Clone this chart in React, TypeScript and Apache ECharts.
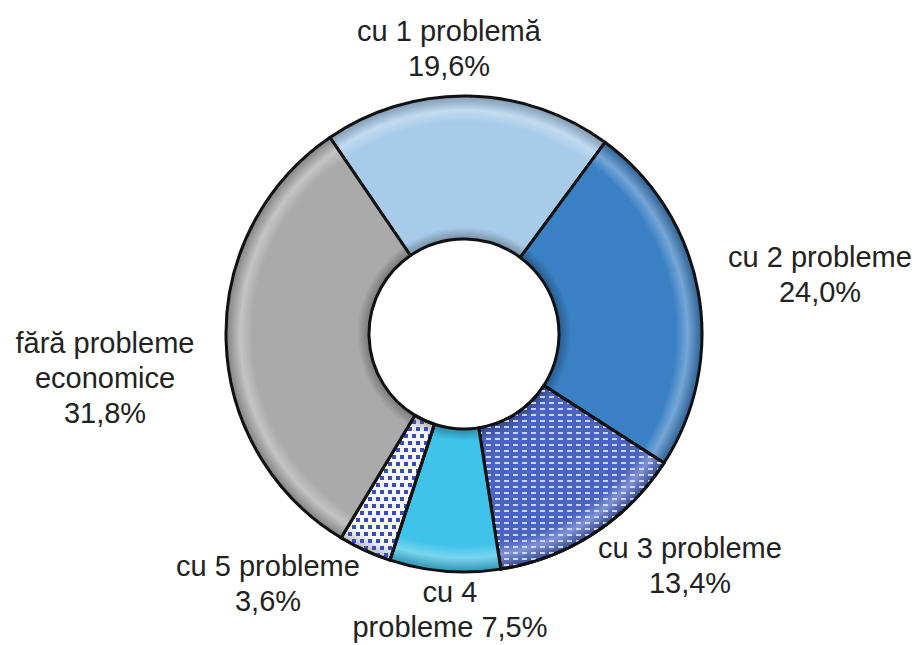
import React, { useEffect, useRef } from "react";
import * as echarts from "echarts";

const categories = [
  "cu 1 problemă",
  "cu 2 probleme",
  "cu 3 probleme",
  "cu 4 probleme",
  "cu 5 probleme",
  "fără probleme economice",
];
const values = [19.6, 24.0, 13.4, 7.5, 3.6, 31.8];
const labelNames = [
  "cu 1 problemă\n",
  "cu 2 probleme\n",
  "cu 3 probleme\n",
  "cu 4\nprobleme ",
  "cu 5 probleme\n",
  "fără probleme\neconomice\n",
];

const baseColors = ["#a8cbea", "#3a80c4", "#4a62c2", "#3fc3ea", "#f6f6fa", "#aaaaaa"];
const labelPos: [number, number][] = [
  [449, 48],
  [820, 274],
  [690, 565],
  [450, 609],
  [268, 583],
  [105, 378],
];

const CX = 464;
const CY = 334;
const R_OUT = 238;
const R_IN = 95;

function shade(hex: string, f: number): string {
  const n = parseInt(hex.slice(1), 16);
  let r = (n >> 16) & 255, g = (n >> 8) & 255, b = n & 255;
  const adj = (c: number) =>
    Math.max(0, Math.min(255, Math.round(f >= 0 ? c + (255 - c) * f : c * (1 + f))));
  r = adj(r); g = adj(g); b = adj(b);
  return "rgb(" + r + "," + g + "," + b + ")";
}

function bevel(hex: string) {
  const i = R_IN / R_OUT;
  return {
    type: "radial",
    x: CX,
    y: CY,
    r: R_OUT,
    global: true,
    colorStops: [
      { offset: 0, color: shade(hex, -0.3) },
      { offset: i, color: shade(hex, -0.3) },
      { offset: i + 0.05, color: hex },
      { offset: 0.89, color: hex },
      { offset: 0.94, color: shade(hex, 0.3) },
      { offset: 1, color: shade(hex, -0.25) },
    ],
  };
}

const decals: any[] = [
  null,
  null,
  {
    symbol: "rect",
    symbolSize: 1,
    color: "rgba(220,232,250,0.85)",
    dashArrayX: [5, 4],
    dashArrayY: [2, 4],
  },
  null,
  {
    symbol: "rect",
    symbolSize: 1,
    color: "#3a4db6",
    dashArrayX: [[4, 4], [0, 4, 4, 0]],
    dashArrayY: [4, 3],
  },
  null,
];

export default function App() {
  const ref = useRef<HTMLDivElement>(null);
  useEffect(() => {
    if (!ref.current) return;
    const chart = echarts.init(ref.current, undefined, { renderer: "svg" });
    const data = categories.map((name, i) => {
      const item: any = {
        name,
        value: values[i],
        itemStyle: { color: bevel(baseColors[i]) },
      };
      if (decals[i]) item.itemStyle.decal = decals[i];
      return item;
    });
    chart.setOption({
      animation: false,
      backgroundColor: "#ffffff",
      series: [
        {
          type: "pie",
          center: [CX, CY],
          radius: [R_IN, R_OUT],
          startAngle: 124.3,
          clockwise: true,
          avoidLabelOverlap: false,
          itemStyle: { borderColor: "#111111", borderWidth: 3 },
          label: {
            show: true,
            position: "outside",
            color: "#222222",
            fontFamily: "Liberation Sans, Arial, sans-serif",
            fontSize: 29,
            lineHeight: 35,
            align: "center",
            formatter: (p: any) =>
              labelNames[p.dataIndex] + values[p.dataIndex].toFixed(1).replace(".", ",") + "%",
          },
          labelLine: { show: false },
          labelLayout: (p: any) => ({
            x: labelPos[p.dataIndex][0],
            y: labelPos[p.dataIndex][1],
            align: "center",
            verticalAlign: "middle",
          }),
          emphasis: { disabled: true },
          data,
        },
      ],
    });
    return () => chart.dispose();
  }, []);
  return (
    <div
      ref={ref}
      style={{ position: "absolute", left: 0, top: 0, width: 922, height: 645 }}
    />
  );
}
